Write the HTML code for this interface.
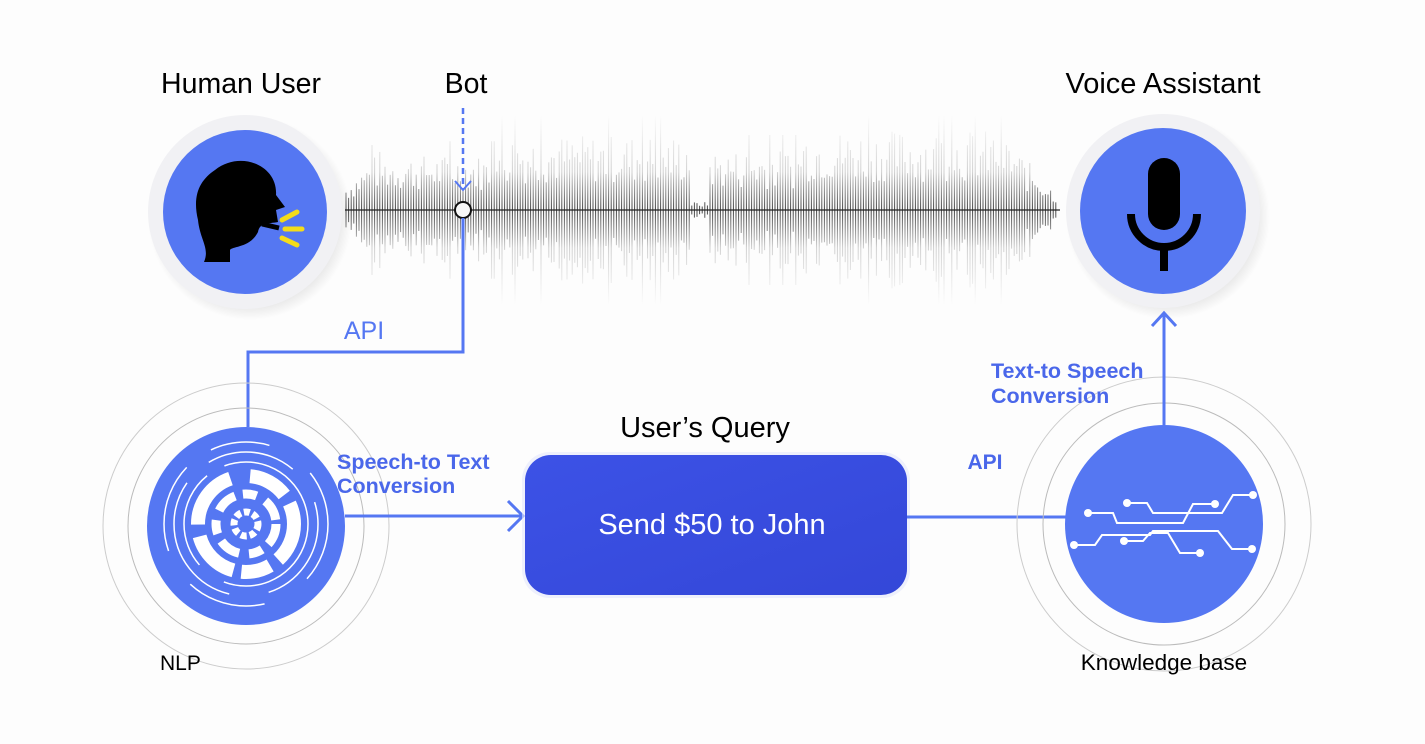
<!DOCTYPE html>
<html><head><meta charset="utf-8"><style>
html,body{margin:0;padding:0;background:#fdfdfd;}
svg{display:block}
text{font-family:"Liberation Sans",sans-serif;}
</style></head><body>
<svg id="s" width="1425" height="744" viewBox="0 0 1425 744" xmlns="http://www.w3.org/2000/svg">
<defs>
<linearGradient id="wg" gradientUnits="userSpaceOnUse" x1="0" y1="115" x2="0" y2="305">
<stop offset="0" stop-color="#000" stop-opacity="0"/>
<stop offset="0.3" stop-color="#000" stop-opacity="0.18"/>
<stop offset="0.5" stop-color="#000" stop-opacity="0.75"/>
<stop offset="0.7" stop-color="#000" stop-opacity="0.18"/>
<stop offset="1" stop-color="#000" stop-opacity="0"/>
</linearGradient>
<radialGradient id="sh" cx="0.5" cy="0.5" r="0.5">
<stop offset="0.8" stop-color="#000" stop-opacity="0.12"/>
<stop offset="1" stop-color="#000" stop-opacity="0"/>
</radialGradient>
<linearGradient id="bx" x1="0" y1="0" x2="1" y2="1">
<stop offset="0" stop-color="#3c52e6"/><stop offset="1" stop-color="#3447d8"/>
</linearGradient>
</defs>
<rect width="1425" height="744" fill="#fdfdfd"/>
<g id="wave"></g>
<line x1="345" y1="210" x2="1060" y2="210" stroke="#222" stroke-width="1.2"/>

<circle cx="250" cy="218" r="102" fill="url(#sh)"/>
<circle cx="245" cy="212" r="97" fill="#f1f1f4"/>
<circle cx="245" cy="212" r="82" fill="#5577f2"/>
<path d="M215,170 C240,150 278,165 276,195 L285,207 L276,210 L278,222 C268,224 260,222 258,232 C250,248 232,246 230,250 L230,262 L204,262 C210,248 200,240 198,220 C192,195 200,180 215,170 Z" fill="#000"/>
<path d="M262,224 L279,228" stroke="#000" stroke-width="5"/>
<g stroke="#f4dc1a" stroke-width="5" stroke-linecap="round">
<line x1="282" y1="220" x2="297" y2="212"/><line x1="285" y1="229" x2="302" y2="229"/><line x1="282" y1="238" x2="297" y2="245"/>
</g>

<circle cx="1168" cy="217" r="102" fill="url(#sh)"/>
<circle cx="1163" cy="211" r="97" fill="#f1f1f4"/>
<circle cx="1163" cy="211" r="83" fill="#5577f2"/>
<rect x="1148" y="158" width="32" height="72" rx="16" fill="#000"/>
<path d="M1131,214 A33,33 0 0 0 1197,214" fill="none" stroke="#000" stroke-width="8"/>
<rect x="1160" y="246" width="8" height="25" fill="#000"/>

<line x1="463" y1="108" x2="463" y2="190" stroke="#5577f2" stroke-width="2.5" stroke-dasharray="6,4"/>
<path d="M455,181 L463,190 L471,181" fill="none" stroke="#5577f2" stroke-width="2"/>
<circle cx="463" cy="210" r="8" fill="#f8f8f8" stroke="#111" stroke-width="2"/>
<path d="M463,218 L463,352 L248,352 L248,427" fill="none" stroke="#5577f2" stroke-width="3"/>
<text x="364" y="339" font-size="25" fill="#5577f2" text-anchor="middle">API</text>

<text x="241" y="93" font-size="28.5" fill="#000" text-anchor="middle">Human User</text>
<text x="466" y="93" font-size="28.5" fill="#000" text-anchor="middle">Bot</text>
<text x="1163" y="93" font-size="29" fill="#000" text-anchor="middle">Voice Assistant</text>

<circle cx="246" cy="526" r="143" fill="none" stroke="#ccc" stroke-width="1"/>
<circle cx="246" cy="526" r="118" fill="none" stroke="#bbb" stroke-width="1"/>
<circle cx="246" cy="526" r="99" fill="#5577f2"/>
<g fill="none" stroke="#fff" stroke-linecap="butt">
<circle cx="246" cy="524" r="12" stroke-width="7" stroke-dasharray="6,3"/>
<circle cx="246" cy="524" r="30" stroke-width="9" stroke-dasharray="22,8,14,10"/>
<circle cx="246" cy="524" r="48" stroke-width="14" stroke-dasharray="40,10,30,8,50,12,60,20"/>
<circle cx="246" cy="524" r="62" stroke-width="1.5" stroke-dasharray="120,30,100,20"/>
<circle cx="246" cy="524" r="72" stroke-width="1.5" stroke-dasharray="90,40,140,30"/>
<circle cx="246" cy="524" r="82" stroke-width="1.5" stroke-dasharray="60,50,80,40,90,30"/>
</g>
<line x1="345" y1="516" x2="522" y2="516" stroke="#5577f2" stroke-width="3"/>
<path d="M508,501 L523,516 L508,531" fill="none" stroke="#5577f2" stroke-width="3"/>
<text x="337" y="469" font-size="21.5" fill="#4a67ea" font-weight="bold">Speech-to Text</text>
<text x="337" y="493" font-size="21.5" fill="#4a67ea" font-weight="bold">Conversion</text>
<text x="160" y="670" font-size="21" fill="#000">NLP</text>

<text x="705" y="437" font-size="29" fill="#000" text-anchor="middle">User’s Query</text>
<rect x="522" y="452" width="388" height="146" rx="28" fill="#e4e8fb" opacity="0.6"/>
<rect x="525" y="455" width="382" height="140" rx="26" fill="url(#bx)"/>
<text x="712" y="534" font-size="29" fill="#fff" text-anchor="middle">Send $50 to John</text>

<line x1="907" y1="517" x2="1066" y2="517" stroke="#5577f2" stroke-width="3"/>
<text x="985" y="469" font-size="21" fill="#4a67ea" font-weight="bold" text-anchor="middle">API</text>
<circle cx="1164" cy="524" r="147" fill="none" stroke="#ccc" stroke-width="1"/>
<circle cx="1164" cy="524" r="121" fill="none" stroke="#bbb" stroke-width="1"/>
<circle cx="1164" cy="524" r="99" fill="#5577f2"/>
<g fill="none" stroke="#fff" stroke-width="2">
<polyline points="1088,513 1113,513 1117,523 1183,523 1193,504 1215,504"/>
<polyline points="1127,503 1147,503 1153,513 1222,513 1233,495 1253,495"/>
<polyline points="1074,545 1095,545 1102,535 1150,535 1153,531 1218,531 1232,549 1252,549"/>
<polyline points="1124,541 1143,541 1150,533 1168,533 1180,553 1200,553"/>
</g>
<g fill="#fff">
<circle cx="1088" cy="513" r="4"/><circle cx="1215" cy="504" r="4"/><circle cx="1127" cy="503" r="4"/><circle cx="1253" cy="495" r="4"/>
<circle cx="1074" cy="545" r="4"/><circle cx="1252" cy="549" r="4"/><circle cx="1124" cy="541" r="4"/><circle cx="1200" cy="553" r="4"/>
</g>
<line x1="1164" y1="425" x2="1164" y2="313" stroke="#5577f2" stroke-width="3"/>
<path d="M1152,326 L1164,313 L1176,326" fill="none" stroke="#5577f2" stroke-width="3"/>
<text x="991" y="378" font-size="21.5" fill="#4a67ea" font-weight="bold">Text-to Speech</text>
<text x="991" y="403" font-size="21.5" fill="#4a67ea" font-weight="bold">Conversion</text>
<text x="1164" y="670" font-size="22.5" fill="#000" text-anchor="middle">Knowledge base</text>
</svg>
<script>
(function(){
var g=document.getElementById('wave'),ns='http://www.w3.org/2000/svg',seed=7;
function r(){seed=(seed*9301+49297)%233280;return seed/233280;}
function env(x){
 if(x<345||x>1058)return 0;
 var e=60;
 if(x<380)e=25+(x-345);
 else if(x<500)e=55;
 else if(x<690)e=75;
 else if(x<710)e=8;
 else if(x<800)e=60;
 else if(x<1000)e=80;
 else e=80-(x-1000)*1.1;
 return Math.max(e,5);
}
for(var x=346;x<1058;x+=2.6){
 var e=env(x),a=e*(0.35+0.65*r());
 if(r()<0.07)a=e*1.25;
 var l=document.createElementNS(ns,'line');
 l.setAttribute('x1',x);l.setAttribute('x2',x);
 l.setAttribute('y1',210-a);l.setAttribute('y2',210+a);
 l.setAttribute('stroke','url(#wg)');l.setAttribute('stroke-width','1');
 g.appendChild(l);
}
})();
</script>
</body></html>
